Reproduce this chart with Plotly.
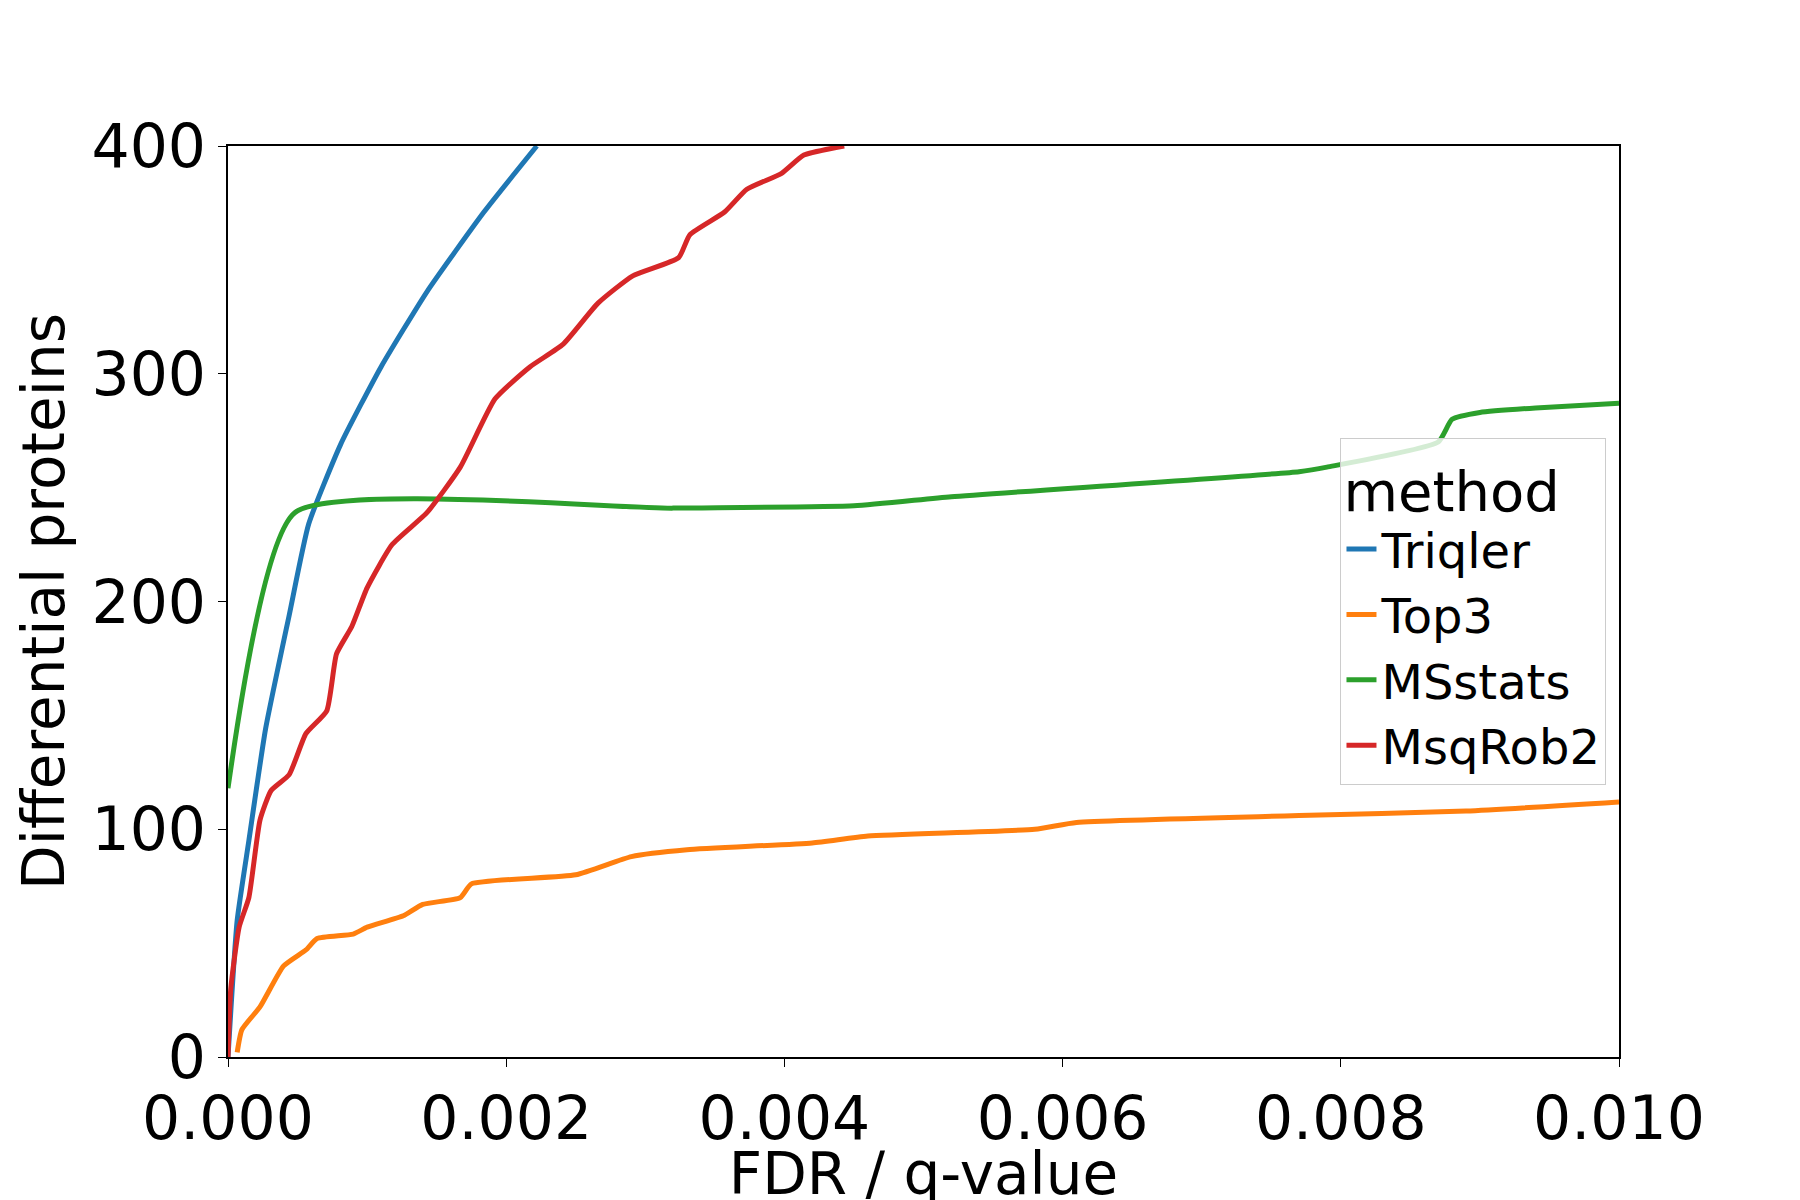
import plotly.graph_objects as go

triqler_x = [0, 0.000066, 0.00015, 0.00027, 0.00044, 0.00058, 0.00081, 0.0011, 0.00143, 0.00184, 0.00222]
triqler_y = [0, 60, 95, 144, 194, 234, 269, 303, 336, 371, 400]

top3_x = [0.000066, 0.0001, 0.00023, 0.0004, 0.00056, 0.00064, 0.0009, 0.001, 0.00126, 0.0014, 0.00167,
          0.00175, 0.0025, 0.0029, 0.0033, 0.0042, 0.0046, 0.0058, 0.0061, 0.0077, 0.0089, 0.01]
top3_y = [2, 12, 22, 40, 47, 52, 54, 57, 62, 67, 70, 76, 80, 88, 91, 94, 97, 100, 103, 106, 108, 112]

msstats_x = [0, 0.00048, 0.0032, 0.0045, 0.0052, 0.0077, 0.0079, 0.0087, 0.0088, 0.009, 0.0094, 0.01]
msstats_y = [118, 239, 241, 242, 246, 257, 259, 270, 280, 283, 285, 287]

msqrob_x = [0, 0.00002, 0.00008, 0.00015, 0.00023, 0.00031, 0.00044, 0.00056, 0.00071, 0.00078, 0.00089,
            0.001, 0.00118, 0.00143, 0.00167, 0.00192, 0.00217, 0.00241, 0.00266, 0.00291, 0.00324,
            0.00332, 0.00357, 0.00373, 0.00398, 0.00414, 0.00443]
msqrob_y = [0, 30, 57, 70, 104, 117, 124, 142, 152, 177, 189, 206, 225, 239, 259, 289, 303, 313, 331,
            343, 351, 361, 371, 381, 388, 396, 400]

series = [("Triqler", triqler_x, triqler_y, "#1f77b4"),
          ("Top3", top3_x, top3_y, "#ff7f0e"),
          ("MSstats", msstats_x, msstats_y, "#2ca02c"),
          ("MsqRob2", msqrob_x, msqrob_y, "#d62728")]

fig = go.Figure()
for name, x, y, c in series:
    fig.add_trace(go.Scatter(x=x, y=y, name=name, mode="lines",
                             line=dict(color=c, width=5, shape="spline", smoothing=0.5)))

axis = dict(showline=True, linecolor="black", linewidth=2, mirror=True, showgrid=False, zeroline=False,
            ticks="outside", ticklen=8, tickcolor="black", tickfont=dict(size=60, color="black"))
fig.update_layout(
    width=1800, height=1200, plot_bgcolor="white", paper_bgcolor="white",
    font=dict(family="DejaVu Sans", color="black"),
    margin=dict(l=220, r=189, t=138, b=126),
    xaxis=dict(range=[0, 0.01], dtick=0.002, tickformat=".3f",
               title=dict(text="FDR / q-value", font=dict(size=58), standoff=2), **axis),
    yaxis=dict(range=[0, 400], dtick=100,
               title=dict(text="Differential proteins", font=dict(size=58), standoff=8), **axis),
    legend=dict(x=0.991, xanchor="right", y=0.68, yanchor="top", bgcolor="rgba(255,255,255,0.8)",
                bordercolor="#cccccc", borderwidth=1, font=dict(size=48),
                title=dict(text="method", font=dict(size=56), side="top")),
)
fig.write_html("out.html")
